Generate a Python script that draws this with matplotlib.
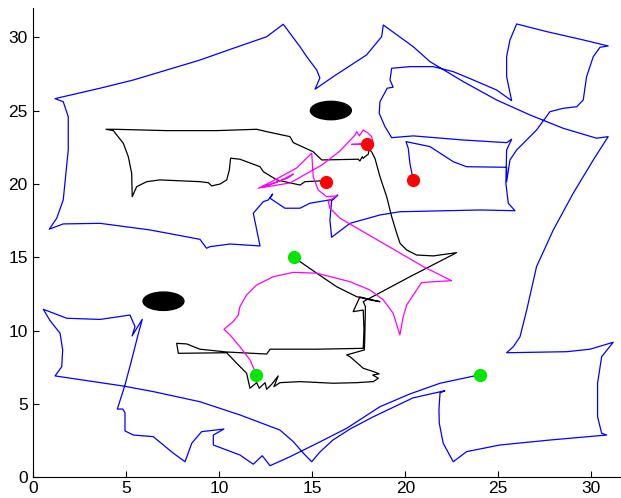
import matplotlib
matplotlib.use("Agg")
import matplotlib.pyplot as plt
from matplotlib.patches import Ellipse

plt.rcParams['font.family'] = ['Liberation Sans', 'DejaVu Sans']

# robot 1 (blue) path, from its start to its goal
blue_path = [
    (24.02, 6.99), (21.87, 6.41), (20.25, 5.68), (18.64, 4.81), (16.85, 3.34),
    (15.41, 2.41), (13.80, 1.40), (12.73, 0.79), (12.31, 1.47), (11.83, 0.89),
    (11.11, 1.52), (9.68, 2.20), (9.68, 2.88), (10.25, 3.29), (9.05, 3.11),
    (8.52, 2.32), (8.16, 1.06), (7.53, 1.64), (6.45, 2.77), (5.38, 2.88),
    (4.93, 3.16), (4.93, 4.40), (4.81, 4.65), (4.52, 4.65), (4.93, 6.29),
    (5.29, 8.00), (5.63, 9.70), (5.86, 10.77), (5.31, 9.63), (5.47, 10.27),
    (5.20, 11.06), (3.59, 10.76), (1.80, 10.84), (0.54, 11.45), (0.90, 10.68),
    (1.44, 9.82), (1.58, 8.68), (1.53, 7.54), (1.17, 6.91),
    (4.84, 6.22), (6.45, 5.84), (8.96, 5.15), (11.11, 4.25), (13.26, 3.22),
    (13.98, 2.43), (14.52, 1.64), (14.97, 1.06),
    (15.41, 1.72), (16.11, 2.54), (17.03, 3.29), (18.26, 4.11), (20.41, 5.41),
    (22.13, 5.90),
    (21.87, 5.75), (21.81, 4.59), (21.83, 3.68), (22.04, 2.32), (22.58, 1.06),
    (23.30, 1.75), (25.09, 2.20), (27.78, 2.54), (30.83, 2.88), (30.56, 3.00),
    (30.34, 4.13), (30.34, 6.41), (30.56, 8.22), (31.18, 9.20), (29.93, 8.73),
    (28.68, 8.56), (25.45, 8.49),
    (25.81, 8.90), (26.17, 9.58), (26.53, 11.40), (27.06, 14.36), (27.96, 16.86),
    (29.03, 19.36), (30.11, 21.63), (30.91, 23.22),
    (30.29, 23.11), (28.49, 23.79), (26.70, 24.70), (24.91, 25.72), (23.12, 26.97),
    (21.33, 28.33), (20.43, 29.35), (18.82, 30.83),
    (18.73, 30.03), (17.92, 28.79), (16.13, 27.31), (15.15, 26.45), (15.41, 27.22),
    (15.24, 27.76), (14.70, 28.67), (14.34, 29.35), (13.44, 30.88),
    (12.55, 30.03), (10.75, 29.24), (8.96, 28.44), (7.17, 27.76), (5.38, 27.08),
    (3.59, 26.52), (1.17, 25.81),
    (1.61, 25.60), (1.88, 24.58), (1.88, 22.31), (1.61, 18.90), (1.26, 17.66),
    (0.86, 16.91),
    (1.61, 17.27), (3.59, 17.31), (6.27, 16.86), (8.96, 16.22), (9.32, 15.61),
    (9.50, 15.72), (10.58, 15.90), (12.19, 15.77),
    (11.83, 18.00), (12.37, 18.79), (12.63, 18.90), (12.87, 19.31),
    (12.73, 19.02), (13.53, 18.34), (14.34, 18.34), (14.87, 18.68), (16.13, 18.95),
    (16.37, 19.24),
    (16.04, 18.85), (15.95, 17.54), (16.04, 16.36),
    (17.03, 17.31), (18.64, 17.88), (19.71, 18.10), (24.02, 18.22), (25.90, 18.17),
    (25.54, 18.68), (25.41, 20.04), (25.45, 22.31), (25.72, 23.04),
    (25.45, 22.81), (23.12, 22.99), (20.43, 23.27), (19.27, 23.15),
    (18.91, 23.90), (18.60, 24.81), (18.64, 25.60), (19.03, 26.52), (19.35, 26.59),
    (19.18, 27.08), (19.27, 27.88),
    (20.25, 27.99), (21.51, 27.99), (22.58, 27.65), (23.66, 27.08), (24.91, 26.40),
    (25.72, 25.67),
    (25.45, 27.31), (25.45, 28.67), (25.63, 29.81), (25.99, 30.90),
    (27.60, 30.38), (29.57, 29.81), (30.91, 29.40),
    (30.47, 29.31), (30.11, 28.67), (29.75, 27.31), (29.57, 25.72), (29.22, 25.26),
    (28.49, 25.15), (27.78, 24.92), (27.06, 23.67), (25.99, 22.31), (25.63, 21.63),
    (25.45, 20.15),
    (25.45, 21.13), (23.30, 21.17), (22.58, 21.51), (21.33, 22.54), (20.04, 22.88),
    (20.16, 22.43), (20.25, 21.40), (20.43, 20.25),
]

# robot 2 (black) path
black_path = [
    (14.00, 15.00), (15.24, 13.91), (16.31, 12.99), (17.39, 12.31), (18.10, 12.09),
    (18.64, 11.97), (17.56, 12.29), (17.20, 11.29), (17.74, 11.40), (17.78, 10.04),
    (17.74, 8.79),
    (15.24, 8.73), (12.73, 8.73), (12.55, 8.40), (10.40, 8.54), (8.96, 8.73),
    (8.25, 9.09), (7.71, 9.13), (7.80, 8.45), (10.40, 8.49),
    (10.94, 7.77), (11.47, 7.09), (11.65, 6.07), (12.01, 6.45), (12.15, 6.07),
    (12.46, 6.45), (12.55, 6.00), (12.82, 6.34), (13.17, 6.91), (12.94, 6.18),
    (13.26, 6.45), (14.34, 6.52), (16.13, 6.41), (17.39, 6.45), (18.28, 6.52),
    (18.55, 6.75), (18.25, 6.97), (18.60, 7.05), (18.30, 7.20),
    (17.74, 7.43), (17.03, 8.22), (16.85, 8.34), (17.47, 8.56), (17.80, 8.68),
    (17.82, 9.36), (17.84, 10.50), (17.86, 11.63), (17.74, 11.97),
    (20.25, 13.67), (22.76, 15.31),
    (21.51, 15.09), (20.61, 15.15), (20.08, 15.49), (19.72, 15.95), (19.54, 16.63),
    (19.27, 17.76), (19.00, 19.13), (18.64, 20.49), (18.37, 21.74), (18.19, 22.19),
    (18.06, 22.35), (18.01, 22.02), (17.83, 21.85), (17.74, 21.74), (17.69, 21.85),
    (17.56, 21.56), (17.47, 21.68),
    (15.51, 21.63), (15.05, 22.19), (13.98, 22.81), (13.80, 23.22), (12.55, 23.56),
    (12.01, 23.72), (9.86, 23.63), (7.17, 23.63), (4.39, 23.72), (3.91, 23.72),
    (4.30, 23.63),
    (4.84, 22.77), (5.11, 21.85), (5.29, 20.72), (5.32, 19.13),
    (5.56, 19.81), (6.10, 20.15), (6.81, 20.27), (8.96, 20.15), (9.41, 20.08),
    (9.59, 19.86), (10.04, 19.99), (10.40, 20.27), (10.54, 20.95), (10.61, 21.75),
    (11.11, 21.68), (12.19, 21.17), (12.37, 20.83), (13.09, 20.27), (14.34, 19.92),
    (14.61, 20.15), (15.41, 20.20), (15.72, 20.11),
]

# robot 3 (magenta) path
magenta_path = [
    (12.00, 7.00), (11.65, 8.00), (11.11, 8.90), (10.58, 9.70), (10.25, 10.09),
    (10.75, 10.61), (11.02, 11.06), (11.11, 11.63), (11.47, 12.43), (12.01, 13.11),
    (12.90, 13.67), (13.98, 13.97), (15.24, 13.91), (17.03, 13.33), (18.10, 12.77),
    (18.82, 12.09), (19.35, 11.18), (19.71, 9.70),
    (19.89, 10.95), (20.08, 11.75), (20.61, 12.77), (20.88, 13.27), (21.51, 13.33),
    (22.49, 13.40),
    (20.97, 14.36), (16.49, 17.66), (15.95, 18.34), (15.86, 18.79), (16.31, 19.18),
    (15.77, 19.13), (15.32, 19.58), (15.05, 20.49), (14.97, 22.09),
    (14.16, 21.08), (12.99, 20.27), (12.10, 19.70), (13.26, 20.20), (13.98, 20.67),
    (13.69, 20.40), (12.30, 19.75), (13.80, 20.06), (15.52, 21.29), (16.49, 22.24),
    (17.30, 23.33), (17.39, 23.56), (17.53, 23.27), (17.74, 23.67), (18.01, 23.45),
    (18.19, 23.22), (18.28, 22.77), (17.12, 22.69), (17.96, 22.69),
]

start_x = [12, 14, 24]
start_y = [7, 15, 7]
goal_x = [15.72, 17.96, 20.43]
goal_y = [20.11, 22.69, 20.25]

# elliptical obstacles: centre, width, height
obstacles = [((16, 25), 2.2, 1.25), ((7, 12), 2.2, 1.25)]

fig = plt.figure(figsize=(6.21, 4.98), dpi=100)
ax = fig.add_axes([0.0536, 0.0416, 0.9464, 0.9427])

for path, col in [(blue_path, '#0000ff'), (black_path, 'k'), (magenta_path, '#ff00ff')]:
    xs, ys = zip(*path)
    ax.plot(xs, ys, color=col, lw=0.9)

for (cx, cy), w, h in obstacles:
    ax.add_patch(Ellipse((cx, cy), w, h, color='k', zorder=3))

ax.plot(start_x, start_y, 'o', color='#00e600', ms=8.5, zorder=4)
ax.plot(goal_x, goal_y, 'o', color='r', ms=8.5, zorder=4)

ax.set_xlim(0, 31.6)
ax.set_ylim(0, 32)
ax.set_xticks([0, 5, 10, 15, 20, 25, 30])
ax.set_yticks([0, 5, 10, 15, 20, 25, 30])
ax.spines['top'].set_visible(False)
ax.spines['right'].set_visible(False)
ax.tick_params(direction='in', length=4.5, width=0.8, labelsize=12.5)
ax.tick_params(axis='x', pad=2.5)
ax.tick_params(axis='y', pad=4)

fig.savefig('out.png', dpi=100)
